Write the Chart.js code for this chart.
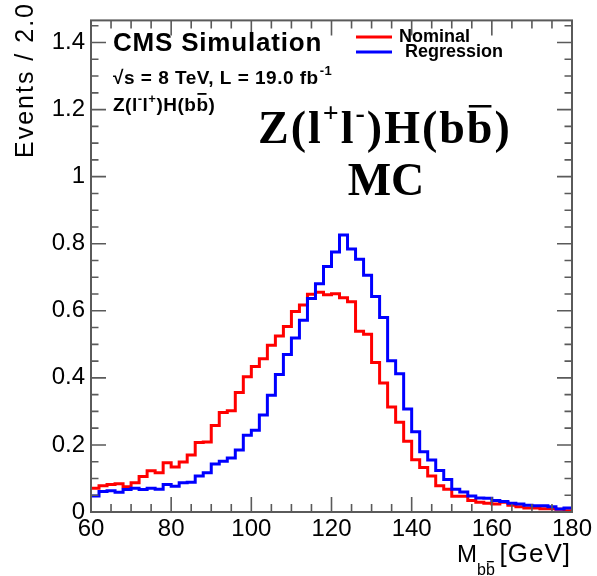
<!DOCTYPE html>
<html><head><meta charset="utf-8">
<script src="https://cdn.jsdelivr.net/npm/chart.js@4.4.0/dist/chart.umd.min.js"></script>
<style>html,body{margin:0;padding:0;background:#fff;}canvas{display:block;}</style>
</head><body>
<canvas id="c" width="597" height="576"></canvas>
<script>
// Bin low edges (GeV), 2 GeV bins
const binLowEdges = [60,62,64,66,68,70,72,74,76,78,80,82,84,86,88,90,92,94,96,98,
  100,102,104,106,108,110,112,114,116,118,120,122,124,126,128,130,132,134,136,138,
  140,142,144,146,148,150,152,154,156,158,160,162,164,166,168,170,172,174,176,178];
const xRangeEnd = 180;
const nominal = [0.071,0.078,0.082,0.084,0.075,0.087,0.106,0.123,0.117,0.147,
  0.134,0.149,0.170,0.207,0.209,0.258,0.297,0.302,0.356,0.403,
  0.434,0.457,0.497,0.525,0.553,0.598,0.617,0.649,0.655,0.648,
  0.651,0.639,0.627,0.539,0.530,0.446,0.385,0.313,0.268,0.211,
  0.156,0.133,0.107,0.078,0.068,0.047,0.047,0.034,0.029,0.026,
  0.024,0.029,0.020,0.016,0.012,0.012,0.010,0.010,0.008,0.004];
const regression = [0.048,0.061,0.063,0.059,0.067,0.071,0.067,0.071,0.068,0.082,
  0.077,0.087,0.089,0.107,0.117,0.143,0.151,0.161,0.185,0.229,
  0.244,0.289,0.348,0.410,0.470,0.519,0.572,0.637,0.681,0.732,
  0.775,0.826,0.784,0.754,0.706,0.643,0.580,0.451,0.412,0.307,
  0.239,0.180,0.155,0.124,0.097,0.068,0.060,0.048,0.042,0.041,
  0.034,0.031,0.026,0.024,0.020,0.019,0.019,0.016,0.009,0.012];
const xTickLabels = [60,80,100,120,140,160,180];
const yTickLabels = [0,0.2,0.4,0.6,0.8,1.0,1.2,1.4];
const xMinorStep = 5, yMinorStep = 0.05;
const yMax = 1.466;

function histPoints(vals){
  const pts = binLowEdges.map((x,i)=>({x:x, y:vals[i]}));
  pts.push({x:xRangeEnd, y:vals[vals.length-1]});
  return pts;
}

const SANS = '"Liberation Sans", Arial, Helvetica, sans-serif';
const SERIF = '"Liberation Serif", "Times New Roman", serif';

function setLS(ctx, v){ if ('letterSpacing' in ctx) ctx.letterSpacing = v + 'px'; }

const decoPlugin = {
  id:'deco',
  afterDraw(chart){
    const ctx = chart.ctx, a = chart.chartArea;
    const xs = chart.scales.x, ys = chart.scales.y;
    ctx.save();
    // frame
    ctx.strokeStyle = '#5a5a5a'; ctx.lineWidth = 2;
    ctx.strokeRect(a.left, a.top, a.right-a.left, a.bottom-a.top);
    ctx.lineWidth = 1.6;
    ctx.beginPath();
    for (let v = xs.min; v <= xs.max + 1e-9; v += xMinorStep){
      const px = xs.getPixelForValue(v);
      const major = xTickLabels.includes(Math.round(v));
      const L = major ? 15 : 8;
      ctx.moveTo(px, a.bottom); ctx.lineTo(px, a.bottom - L);
      ctx.moveTo(px, a.top); ctx.lineTo(px, a.top + L);
    }
    for (let k = 0; k*yMinorStep <= yMax + 1e-9; k++){
      const v = k*yMinorStep;
      const py = ys.getPixelForValue(v);
      const major = (k % 4) === 0;
      const L = major ? 15 : 7.5;
      ctx.moveTo(a.left, py); ctx.lineTo(a.left + L, py);
      ctx.moveTo(a.right, py); ctx.lineTo(a.right - L, py);
    }
    ctx.stroke();

    ctx.fillStyle = '#000';
    ctx.textBaseline = 'alphabetic';
    ctx.textAlign = 'left';
    // CMS Simulation
    ctx.font = 'bold 26px ' + SANS; setLS(ctx, 0.8);
    ctx.fillText('CMS Simulation', 113, 51);
    // sqrt(s) line
    ctx.font = 'bold 19px ' + SANS; setLS(ctx, 0.5);
    let x = 113;
    const l1 = '\u221As = 8 TeV, L = 19.0 fb';
    ctx.fillText(l1, x, 84); x += ctx.measureText(l1).width;
    ctx.font = 'bold 13px ' + SANS;
    ctx.fillText('-1', x+1, 75);
    // Z(l-l+)H(bb)
    x = 113;
    const parts = [['Z(l',0,19],['-',-8,13],['l',0,19],['+',-8,13],[')H(b',0,19]];
    for (const [t,dy,fs] of parts){
      ctx.font = 'bold '+fs+'px ' + SANS;
      ctx.fillText(t, x, 111+dy);
      x += ctx.measureText(t).width;
    }
    ctx.font = 'bold 19px ' + SANS;
    const sbw = ctx.measureText('b').width;
    ctx.fillText('b', x, 111);
    ctx.fillRect(x+1, 93, sbw-3, 1.8);
    x += sbw;
    ctx.fillText(')', x, 111);

    // Legend
    setLS(ctx, 0);
    ctx.lineWidth = 3;
    ctx.strokeStyle = '#ff0000'; ctx.beginPath(); ctx.moveTo(356,37); ctx.lineTo(392,37); ctx.stroke();
    ctx.strokeStyle = '#0000ff'; ctx.beginPath(); ctx.moveTo(356,52); ctx.lineTo(392,52); ctx.stroke();
    ctx.font = 'bold 18px ' + SANS;
    ctx.textBaseline = 'middle';
    ctx.fillText('Nominal', 399, 37);
    ctx.fillText('Regression', 405, 52);
    ctx.textBaseline = 'alphabetic';

    // Big serif text
    const BS = 46, SS = 28;
    setLS(ctx, 2);
    x = 258;
    const big = [['Z(l',0,BS],['+',-21,SS],['l',0,BS],['-',-21,SS],[')H(b',0,BS]];
    for (const [t,dy,fs] of big){
      ctx.font = 'bold '+fs+'px ' + SERIF;
      ctx.fillText(t, x, 143+dy);
      x += ctx.measureText(t).width;
    }
    ctx.font = 'bold '+BS+'px ' + SERIF;
    const bw = ctx.measureText('b').width;
    ctx.fillText('b', x, 143);
    ctx.fillRect(x+2, 105, bw-5, 2.5);
    x += bw;
    ctx.fillText(')', x, 143);
    setLS(ctx, 0);
    ctx.textAlign = 'center';
    ctx.fillText('MC', 386, 195);

    // x-axis title
    ctx.textAlign = 'left';
    ctx.font = '24px ' + SANS;
    x = 457;
    ctx.fillText('M', x, 562); x += ctx.measureText('M').width;
    ctx.font = '16px ' + SANS;
    const sw = ctx.measureText('b').width;
    ctx.fillText('bb', x, 575);
    ctx.fillRect(x+sw+1, 561, sw-2, 1.3);
    ctx.font = '26px ' + SANS; setLS(ctx, 1); ctx.textAlign = 'right';
    ctx.fillText('[GeV]', 571, 562);

    // y-axis title
    ctx.save();
    ctx.translate(33, 2);
    ctx.rotate(-Math.PI/2);
    ctx.textAlign = 'right';
    ctx.font = '25px ' + SANS; setLS(ctx, 2);
    ctx.fillText('Events / 2.0', 0, 0);
    ctx.restore();
    ctx.restore();
  }
};

new Chart(document.getElementById('c'), {
  type:'line',
  data:{datasets:[
    {label:'Nominal', data:histPoints(nominal), borderColor:'#ff0000', borderWidth:3, stepped:'before', pointRadius:0, fill:false, order:1},
    {label:'Regression', data:histPoints(regression), borderColor:'#0000ff', borderWidth:3, stepped:'before', pointRadius:0, fill:false, order:0}
  ]},
  options:{
    responsive:false, animation:false, devicePixelRatio:1,
    layout:{padding:{left:0,right:25,top:11,bottom:0}},
    plugins:{legend:{display:false}, tooltip:{enabled:false}},
    scales:{
      x:{type:'linear', min:60, max:xRangeEnd,
        afterBuildTicks:s=>{s.ticks = xTickLabels.map(v=>({value:v}));},
        grid:{display:false, drawTicks:false}, border:{display:false},
        ticks:{font:{family:SANS,size:24}, color:'#000', padding:3, maxRotation:0, autoSkip:false},
        afterFit:s=>{s.height = 64;}},
      y:{type:'linear', min:0, max:yMax,
        afterBuildTicks:s=>{s.ticks = yTickLabels.map(v=>({value:v}));},
        grid:{display:false, drawTicks:false}, border:{display:false},
        ticks:{font:{family:SANS,size:24}, color:'#000', padding:6, autoSkip:false,
          callback:v=>String(+(+v).toFixed(1))},
        afterFit:s=>{s.width = 91;}}
    }
  },
  plugins:[decoPlugin]
});
</script>
</body></html>
